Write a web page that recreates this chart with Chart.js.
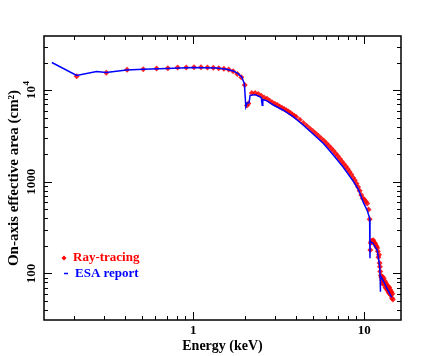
<!DOCTYPE html>
<html>
<head>
<meta charset="utf-8">
<script src="https://cdn.jsdelivr.net/npm/chart.js@4"></script>
<style>
body{margin:0;background:#fff;}
#caja{width:445px;height:356px;}
</style>
</head>
<body>
<div id="caja"><canvas id="grafico"></canvas></div>
<script>
// ESA report (linea azul)
const esaEnergia = [0.149, 0.208, 0.272, 0.31, 0.407, 0.51, 0.7, 1.0, 1.37, 1.57, 1.71, 1.83, 1.92, 1.99, 2.03, 2.07, 2.12, 2.15, 2.3, 2.45, 2.5, 2.53, 2.55, 2.7, 2.94, 3.36, 3.85, 4.41, 5.04, 5.77, 6.61, 7.56, 8.67, 9.27, 9.93, 10.4, 10.75, 10.8, 10.82, 11.2, 11.9, 12.3, 12.4, 12.42, 12.45, 13.0, 13.5, 14.2, 14.5];
const esaArea    = [20100, 14500, 16000, 15600, 16600, 16900, 17300, 17700, 17500, 16950, 16250, 15200, 14000, 11800, 6580, 7280, 7300, 8800, 8950, 8500, 8300, 6860, 7900, 7650, 6900, 6050, 5120, 4150, 3310, 2620, 1955, 1435, 1000, 813, 581, 490, 400, 146, 222, 215, 180, 120, 88, 63, 95, 81, 70, 58, 55];

// Ray-tracing (puntos rojos)
const rayEnergia = [0.208, 0.31, 0.41, 0.51, 0.61, 0.71, 0.81, 0.91, 1.01, 1.11, 1.21, 1.31, 1.41, 1.51, 1.61, 1.71, 1.81, 1.91, 2.0, 2.06, 2.1,
    2.2, 2.3, 2.4, 2.5, 2.6, 2.7, 2.8, 2.9, 3.0, 3.1, 3.2, 3.3, 3.4, 3.5, 3.6, 3.7, 3.8, 3.9, 4.0,
    4.2, 4.4, 4.6, 4.8, 5.0, 5.2, 5.4, 5.6, 5.8, 6.0, 6.2, 6.4, 6.6, 6.8, 7.0, 7.2, 7.4, 7.6, 7.8, 8.0, 8.2, 8.4, 8.6, 8.8, 9.0, 9.2, 9.4, 9.6, 9.8, 10.0, 10.2, 10.4, 10.6, 10.75,
    10.85, 10.9, 11.0, 11.1, 11.2, 11.3, 11.4, 11.5, 11.6, 11.7, 11.8, 11.9, 12.0, 12.1, 12.2, 12.3, 12.35, 12.4, 12.5, 12.6, 12.7, 12.75, 12.8, 12.9, 13.0, 13.1, 13.2, 13.3, 13.4, 13.5, 13.6, 13.7, 13.8, 13.9, 14.0, 14.1, 14.2, 14.3, 14.4, 14.5, 14.6, 14.7];
const rayArea = [14200, 15500, 16700, 17000, 17300, 17400, 17700, 17700, 17800, 17800, 17700, 17600, 17400, 17200, 16800, 16100, 15000, 13900, 11400, 6800, 7150,
    9300, 9300, 9100, 8700, 8300, 8050, 7700, 7350, 7100, 6900, 6650, 6450, 6250, 6050, 5850, 5650, 5450, 5250, 5100,
    4750, 4380, 4100, 3830, 3580, 3360, 3170, 2980, 2800, 2630, 2480, 2330, 2180, 2040, 1910, 1790, 1670, 1570, 1470, 1380, 1290, 1200, 1110, 1040, 960, 880, 800, 720, 660, 640, 610, 580, 500, 390,
    180, 215, 225, 228, 222, 230, 218, 215, 210, 200, 195, 190, 175, 150, 160, 130, 118, 105, 95, 90, 85, 78, 92, 80, 88, 75, 82, 70, 78, 68, 74, 65, 72, 62, 70, 60, 66, 58, 63, 54, 60, 52];

// ticks
const xMayores = [1, 10];
const xEtiquetas = ['1', '10'];
const xMenores = [0.2, 0.3, 0.4, 0.5, 0.6, 0.7, 0.8, 0.9, 2, 3, 4, 5, 6, 7, 8, 9];
const yMayores = [100, 1000, 10000];
const yEtiquetas = ['100', '1000', '10^4'];
const yMenores = [40, 50, 60, 70, 80, 90, 200, 300, 400, 500, 600, 700, 800, 900, 2000, 3000, 4000, 5000, 6000, 7000, 8000, 9000, 20000, 30000];

const fuente = 'bold 13px "Liberation Serif", "DejaVu Serif", serif';
const fuenteChica = 'bold 9px "Liberation Serif", "DejaVu Serif", serif';

function puntos(xs, ys){
    let datos = [];
    for(var i=0; i<xs.length; i++){
        datos.push({x: xs[i], y: ys[i]});
    }
    return datos;
}

const marco = {
    id: 'marco',
    afterDraw(chart){
        const ctx = chart.ctx;
        const a = chart.chartArea;
        const sx = chart.scales.x;
        const sy = chart.scales.y;
        ctx.save();
        ctx.strokeStyle = '#000';
        ctx.lineWidth = 1.5;
        ctx.strokeRect(a.left, a.top, a.right - a.left, a.bottom - a.top);

        ctx.lineWidth = 1;
        ctx.beginPath();
        function tickX(v, largo){
            const px = Math.round(sx.getPixelForValue(v)) + 0.5;
            ctx.moveTo(px, a.bottom); ctx.lineTo(px, a.bottom - largo);
            ctx.moveTo(px, a.top); ctx.lineTo(px, a.top + largo);
        }
        function tickY(v, largo){
            const py = Math.round(sy.getPixelForValue(v)) + 0.5;
            ctx.moveTo(a.left, py); ctx.lineTo(a.left + largo, py);
            ctx.moveTo(a.right, py); ctx.lineTo(a.right - largo, py);
        }
        xMayores.forEach(v => tickX(v, 8));
        xMenores.forEach(v => tickX(v, 4));
        yMayores.forEach(v => tickY(v, 8));
        yMenores.forEach(v => tickY(v, 4));
        ctx.stroke();

        // etiquetas eje x
        ctx.fillStyle = '#000';
        ctx.font = fuente;
        ctx.textAlign = 'center';
        ctx.textBaseline = 'middle';
        xMayores.forEach((v, i) => {
            ctx.fillText(xEtiquetas[i], sx.getPixelForValue(v), a.bottom + 11);
        });
        ctx.font = 'bold 14px "Liberation Serif", "DejaVu Serif", serif';
        ctx.fillText('Energy (keV)', (a.left + a.right) / 2, 346);
        ctx.font = fuente;

        // etiquetas eje y (rotadas)
        yMayores.forEach((v, i) => {
            const py = sy.getPixelForValue(v);
            ctx.save();
            ctx.translate(32, py);
            ctx.rotate(-Math.PI / 2);
            const txt = yEtiquetas[i];
            if(txt.indexOf('^') > 0){
                const base = txt.split('^')[0];
                const exp = txt.split('^')[1];
                const w1 = ctx.measureText(base).width;
                ctx.font = fuenteChica;
                const w2 = ctx.measureText(exp).width;
                ctx.font = fuente;
                ctx.textAlign = 'left';
                ctx.fillText(base, -(w1 + w2) / 2, 0);
                ctx.font = fuenteChica;
                ctx.fillText(exp, -(w1 + w2) / 2 + w1 + 0.5, -5);
            } else {
                ctx.fillText(txt, 0, 0);
            }
            ctx.restore();
        });

        ctx.save();
        ctx.font = 'bold 15px "Liberation Serif", "DejaVu Serif", serif';
        ctx.textAlign = 'center';
        ctx.translate(14, (a.top + a.bottom) / 2);
        ctx.rotate(-Math.PI / 2);
        ctx.fillText('On-axis effective area (cm\u00B2)', 0, 0);
        ctx.restore();

        // leyenda
        ctx.font = fuente;
        ctx.textAlign = 'left';
        ctx.fillStyle = '#ff0000';
        ctx.beginPath();
        ctx.moveTo(64, 255.5); ctx.lineTo(66.5, 258); ctx.lineTo(64, 260.5); ctx.lineTo(61.5, 258);
        ctx.closePath();
        ctx.fill();
        ctx.fillText('Ray-tracing', 73, 258);
        ctx.strokeStyle = '#0000ff';
        ctx.lineWidth = 1.5;
        ctx.beginPath();
        ctx.moveTo(64, 273.5); ctx.lineTo(68, 273.5);
        ctx.stroke();
        ctx.fillStyle = '#0000ff';
        ctx.fillText('ESA report', 75, 274);
        ctx.restore();
    }
};

const ctx = document.getElementById('grafico');
const myChart = new Chart(ctx, {
    type: 'scatter',
    data: {
        datasets: [{
            label: 'ESA report',
            data: puntos(esaEnergia, esaArea),
            showLine: true,
            borderColor: '#0000ff',
            backgroundColor: '#0000ff',
            borderWidth: 1.5,
            pointRadius: 0,
            tension: 0
        }, {
            label: 'Ray-tracing',
            data: puntos(rayEnergia, rayArea),
            showLine: false,
            pointStyle: 'rectRot',
            pointRadius: 3,
            backgroundColor: 'rgba(255,0,0,0.85)',
            borderColor: 'rgba(255,0,0,0.85)',
            borderWidth: 0
        }]
    },
    options: {
        responsive: true,
        maintainAspectRatio: false,
        animation: false,
        layout: {
            padding: {left: 44, right: 44, top: 36, bottom: 36}
        },
        plugins: {
            legend: {display: false},
            tooltip: {enabled: false}
        },
        scales: {
            x: {type: 'logarithmic', min: 0.134, max: 16.4, display: false},
            y: {type: 'logarithmic', min: 31, max: 39100, display: false}
        }
    },
    plugins: [marco]
});
</script>
</body>
</html>
